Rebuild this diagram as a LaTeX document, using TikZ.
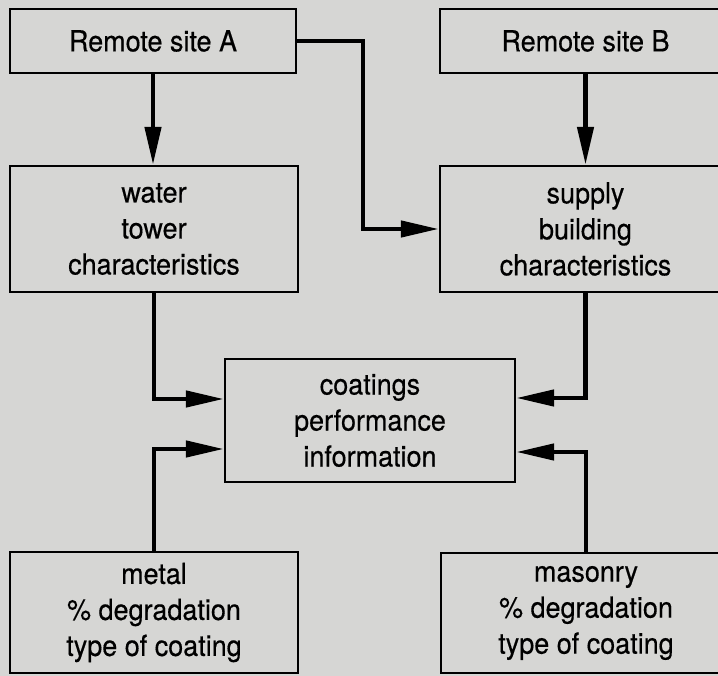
\documentclass[tikz,border=0pt]{standalone}
\usepackage{fontspec}
\setmainfont{TeX Gyre Heros}[FakeStretch=0.93, FakeBold=0.4]
\usetikzlibrary{arrows.meta}
\definecolor{paper}{RGB}{214,214,212}
\tikzset{
  box/.style={draw=black, line width=2.3pt, align=center, inner sep=0pt,
    font=\fontsize{29}{36}\selectfont},
  arr/.style={line width=4.5pt, -{Triangle[length=38pt,width=16pt]}},
}
\begin{document}
\begin{tikzpicture}[x=1pt, y=-1pt]
  \useasboundingbox (0,0) rectangle (718,676);
  \fill[paper] (0,0) rectangle (718,676);
  \begin{scope}
    \clip (0,0) rectangle (718,676);
    % source boxes
    \node[box, minimum width=286pt, minimum height=64pt] (siteA) at (153,41) {Remote site A};
    \node[box, minimum width=291pt, minimum height=64pt] (siteB) at (585.5,41) {Remote site B};
    % characteristics
    \node[box, minimum width=288pt, minimum height=126pt] (tower) at (154,229) {water\\tower\\characteristics};
    \node[box, minimum width=291pt, minimum height=126pt] (supply) at (585.5,229) {supply\\building\\characteristics};
    % central store
    \node[box, minimum width=290pt, minimum height=123pt] (coat) at (370,420.5) {coatings\\performance\\information};
    % degradation inputs
    \node[box, minimum width=288pt, minimum height=121pt] (metal) at (154,612.5) {metal\\\% degradation\\type of coating};
    \node[box, minimum width=290pt, minimum height=120pt] (mason) at (586,613) {masonry\\\% degradation\\type of coating};

    % connectors
    \draw[arr] (siteA.south) -- (siteA.south |- tower.north);
    \draw[arr] (siteA.east) -- ++(66,0) |- (supply.west);
    \draw[arr] (siteB.south) -- (siteB.south |- supply.north);
    \draw[arr] (tower.south) |- ([yshift=21.5pt]coat.west);
    \draw[arr] (metal.north) |- ([yshift=-28.5pt]coat.west);
    \draw[arr] (supply.south) |- ([yshift=22.5pt]coat.east);
    \draw[arr] (mason.north) |- ([yshift=-31.5pt]coat.east);
  \end{scope}
\end{tikzpicture}
\end{document}
